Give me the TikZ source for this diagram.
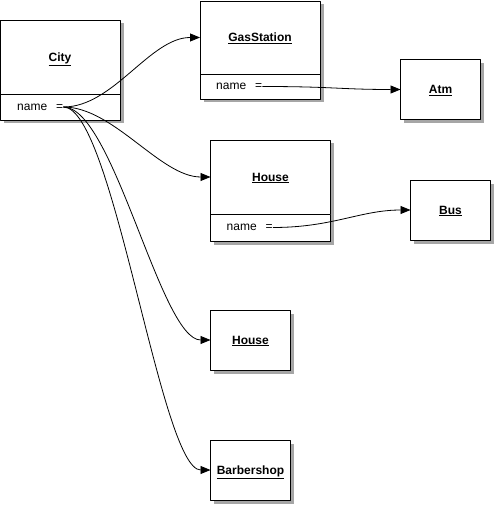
\documentclass[tikz,border=0pt]{standalone}
\usepackage{fontspec}
\setmainfont{Liberation Sans}
\usetikzlibrary{positioning,arrows.meta,backgrounds}
\newcommand{\objname}[1]{\textbf{\underline{#1}}}

\begin{document}
\begin{tikzpicture}[x=1pt, y=-1pt, font=\fontsize{12}{14}\selectfont, line join=round,
		box/.style={draw, line width=0.9pt, fill=white, inner sep=0pt, outer sep=0pt, text depth=0pt},
		attr/.style={inner sep=0pt, anchor=west},
		link/.style={-{Triangle[length=10pt,width=8pt]}, line width=0.8pt}]
		\useasboundingbox (0,0) rectangle (495,505);
		
		% 1. Objects with a row of attributes
		\node[box, minimum width=120pt, minimum height=74pt] (city) at (60,57) {\objname{City}};
		\node[box, minimum width=120pt, minimum height=26pt, below=0pt of city] (cityrow) {};
		\node[attr] (cityname) at ([xshift=17pt]cityrow.west) {name\hspace{9pt}=};
		
		\node[box, minimum width=120pt, minimum height=73pt] (gas) at (260,37.5) {\objname{GasStation}};
		\node[box, minimum width=120pt, minimum height=25pt, below=0pt of gas] (gasrow) {};
		\node[attr] (gasname) at ([xshift=16pt]gasrow.west) {name\hspace{9pt}=};
		
		\node[box, minimum width=120pt, minimum height=74pt] (house) at (270.5,177) {\objname{House}};
		\node[box, minimum width=120pt, minimum height=27pt, below=0pt of house] (houserow) {};
		\node[attr] (housename) at ([xshift=16pt]houserow.west) {name\hspace{9pt}=};
		
		% 2. Plain objects
		\foreach \n/\x/\y/\t in {atm/440.5/89.5/Atm, bus/450.5/210/Bus, housetwo/250.5/340/House, barber/250.5/470/Barbershop}
		\node[box, minimum width=80pt, minimum height=60pt] (\n) at (\x,\y) {\objname{\t}};
		
		% 3. Shadows
		\begin{scope}[on background layer]
			\foreach \n/\m in {city/cityrow, gas/gasrow, house/houserow, atm/atm, bus/bus, housetwo/housetwo, barber/barber}
			\fill[black!35] ([shift={(3.5,3.5)}]\n.north west) rectangle ([shift={(3.5,3.5)}]\m.south east);
		\end{scope}
		
		% 4. Links
		\foreach \to in {gas, house, housetwo, barber}
		\draw[link] (cityname.east) .. controls +(50,0) and +(-50,0) .. (\to.west);
		\draw[link] (gasname.east) .. controls +(70,0) and +(-60,0) .. (atm.west);
		\draw[link] (housename.east) .. controls +(60,0) and +(-50,0) .. (bus.west);
	\end{tikzpicture}
\end{document}
